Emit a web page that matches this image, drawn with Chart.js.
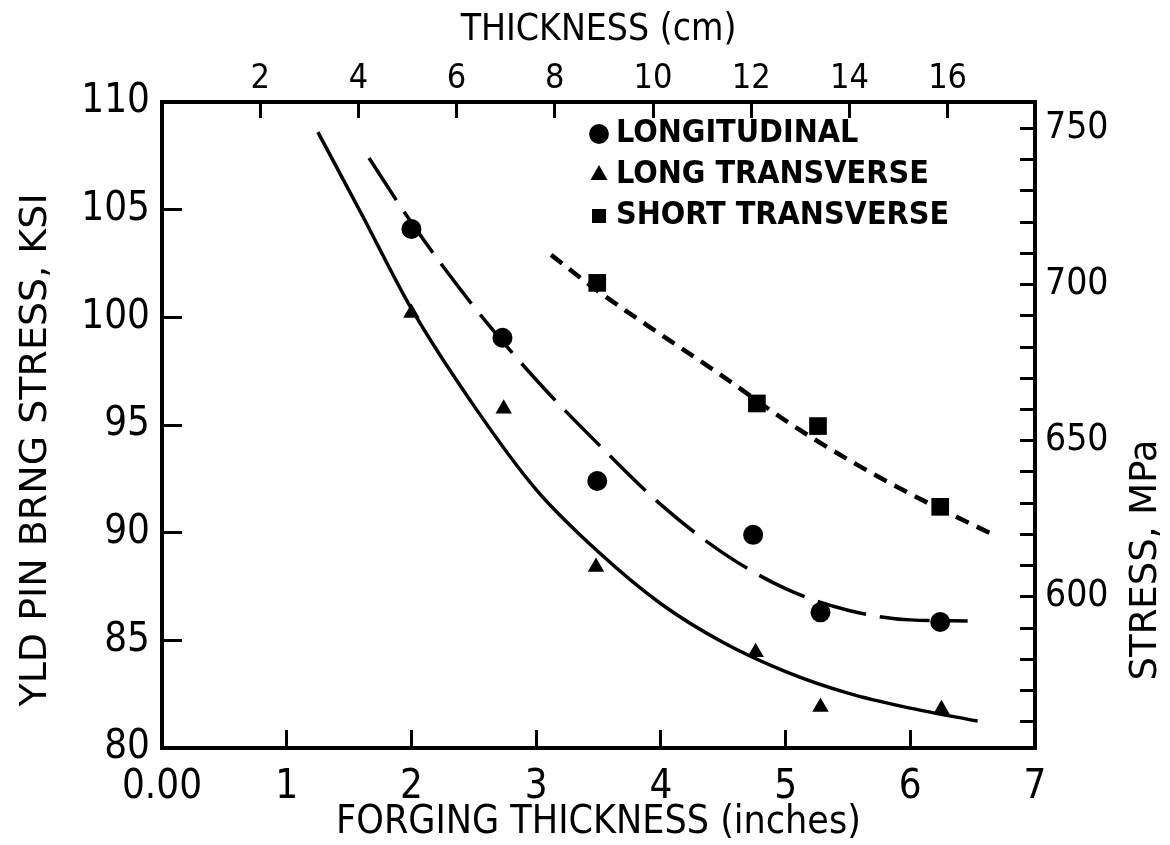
<!DOCTYPE html>
<html><head><meta charset="utf-8">
<script src="https://cdn.jsdelivr.net/npm/chart.js@4.4.0/dist/chart.umd.min.js"></script>
<style>html,body{margin:0;padding:0;background:#fff}#wrap{width:1170px;height:845px;position:relative}</style>
</head><body><div id="wrap"><canvas id="c"></canvas></div>
<script>
// ---- data ----
const longitudinalX = [2.0, 2.73, 3.49, 4.74, 5.28, 6.24];
const longitudinalY = [104.1, 99.05, 92.4, 89.9, 86.3, 85.85];
const longTransX = [2.0, 2.74, 3.48, 4.76, 5.28, 6.25];
const longTransY = [100.2, 95.75, 88.4, 84.45, 81.9, 81.8];
const shortTransX = [3.49, 4.77, 5.26, 6.24];
const shortTransY = [101.6, 96.0, 94.95, 91.2];

const longFitX = [1.66, 2.0, 2.5, 3.0, 3.5, 4.0, 4.5, 5.0, 5.5, 6.0, 6.46];
const longFitY = [107.4, 104.4, 100.5, 97.1, 94.1, 91.3, 89.05, 87.4, 86.4, 85.95, 85.9];
const ltFitX = [1.25, 1.6, 2.0, 2.5, 3.0, 3.5, 4.0, 4.5, 5.0, 5.5, 6.0, 6.54];
const ltFitY = [108.6, 104.8, 100.4, 95.9, 92.0, 89.1, 86.7, 84.9, 83.55, 82.55, 81.85, 81.25];
const stFitX = [3.12, 3.5, 4.0, 4.5, 5.0, 5.5, 6.0, 6.65];
const stFitY = [102.9, 101.2, 99.2, 97.25, 95.2, 93.4, 91.8, 89.95];

const inchTicks = [0, 1, 2, 3, 4, 5, 6, 7];
const cmTicks = [2, 4, 6, 8, 10, 12, 14, 16];
const ksiTicks = [80, 85, 90, 95, 100, 105, 110];
const mpaTicks = [560, 570, 580, 590, 600, 610, 620, 630, 640, 650, 660, 670, 680, 690, 700, 710, 720, 730, 740, 750];
const mpaLabelled = [600, 650, 700, 750];

const seriesNames = ['LONGITUDINAL', 'LONG TRANSVERSE', 'SHORT TRANSVERSE'];
const xTitle = 'FORGING THICKNESS (inches)';
const x2Title = 'THICKNESS (cm)';
const yTitle = 'YLD PIN BRNG STRESS, KSI';
const y2Title = 'STRESS, MPa';

const pts = (xs, ys) => xs.map((x, i) => ({x: x, y: ys[i]}));
const FAM = "'DejaVu Sans Condensed', 'DejaVu Sans', sans-serif";
const FAMW = "'DejaVu Sans', sans-serif";
const INCH_MAX = 7, KSI_MIN = 80, KSI_MAX = 110;

const fixSize = (prop, v) => (s) => { s[prop] = v; };

const legendMover = {
  id: 'legendMover',
  afterLayout(chart) {
    const lg = chart.legend; if (!lg) return;
    const w = lg.width, h = lg.height;
    lg.left = 589; lg.right = 589 + w; lg.top = 109; lg.bottom = 109 + h;
  }
};
const verticalTitles = {
  id: 'verticalTitles',
  afterDraw(chart) {
    const ctx = chart.ctx;
    const draw = (text, x, y, font) => {
      ctx.save();
      ctx.translate(x, y);
      ctx.rotate(-Math.PI / 2);
      ctx.font = font;
      ctx.fillStyle = '#000';
      ctx.textAlign = 'center';
      ctx.textBaseline = 'middle';
      ctx.fillText(text, 0, 0);
      ctx.restore();
    };
    draw(yTitle, 36, 450, '38px ' + FAMW);
    draw(y2Title, 1146, 560, '37px ' + FAMW);
  }
};

const black = '#000';
const axisCommon = (tl) => ({
  grid: { display: true, drawOnChartArea: false, drawTicks: true, tickLength: tl, color: black, lineWidth: 3 },
  border: { display: true, color: black, width: 4 },
});

new Chart(document.getElementById('c'), {
  type: 'scatter',
  data: {
    datasets: [
      { label: seriesNames[0], data: pts(longitudinalX, longitudinalY), pointStyle: 'circle', pointRadius: 10, backgroundColor: black, borderColor: black, borderWidth: 0, showLine: false, xAxisID: 'x', yAxisID: 'y' },
      { label: seriesNames[1], data: pts(longTransX, longTransY), pointStyle: 'triangle', pointRadius: 9.5, backgroundColor: black, borderColor: black, borderWidth: 0, showLine: false, xAxisID: 'x', yAxisID: 'y' },
      { label: seriesNames[2], data: pts(shortTransX, shortTransY), pointStyle: 'rect', pointRadius: 12.5, backgroundColor: black, borderColor: black, borderWidth: 0, showLine: false, xAxisID: 'x', yAxisID: 'y' },
      { label: 'fitL', data: pts(longFitX, longFitY), showLine: true, pointRadius: 0, borderColor: black, borderWidth: 3.5, borderDash: [50, 14], cubicInterpolationMode: 'monotone', fill: false, xAxisID: 'x', yAxisID: 'y' },
      { label: 'fitLT', data: pts(ltFitX, ltFitY), showLine: true, pointRadius: 0, borderColor: black, borderWidth: 3.5, cubicInterpolationMode: 'monotone', fill: false, xAxisID: 'x', yAxisID: 'y' },
      { label: 'fitST', data: pts(stFitX, stFitY), showLine: true, pointRadius: 0, borderColor: black, borderWidth: 4.5, borderDash: [14, 9], cubicInterpolationMode: 'monotone', fill: false, xAxisID: 'x', yAxisID: 'y' }
    ]
  },
  options: {
    responsive: true, maintainAspectRatio: false, animation: false, devicePixelRatio: 1,
    layout: { padding: 0 },
    plugins: {
      tooltip: { enabled: false },
      legend: {
        display: true, position: 'chartArea', align: 'start',
        labels: {
          filter: (item) => item.datasetIndex < 3,
          usePointStyle: true, boxWidth: 2, boxHeight: 14, padding: 9, color: black,
          font: { family: FAM, size: 32, weight: 'bold', lineHeight: 1 }
        }
      }
    },
    scales: {
      x: Object.assign(axisCommon(-18), {
        type: 'linear', position: 'bottom', min: 0, max: INCH_MAX,
        afterFit: fixSize('height', 97),
        afterBuildTicks: (s) => { s.ticks = inchTicks.map(v => ({value: v})); },
        ticks: { autoSkip: false, maxRotation: 0, padding: 38, color: black, font: { family: FAM, size: 40, lineHeight: 1 },
                 callback: (v) => v === 0 ? '0.00' : String(v) },
        title: { display: true, text: xTitle, color: black, padding: { top: 0, bottom: 3 }, font: { family: FAM, size: 39, lineHeight: 1 } }
      }),
      x2: Object.assign(axisCommon(-16), {
        type: 'linear', position: 'top', display: true, min: 0, max: INCH_MAX * 2.54,
        afterFit: fixSize('height', 102),
        afterBuildTicks: (s) => { s.ticks = cmTicks.map(v => ({value: v})); },
        ticks: { autoSkip: false, maxRotation: 0, padding: 22, color: black, font: { family: FAM, size: 34, lineHeight: 1 } },
        title: { display: true, text: x2Title, color: black, padding: { top: 12, bottom: 0 }, font: { family: FAM, size: 37, lineHeight: 1 } }
      }),
      y: Object.assign(axisCommon(-20), {
        type: 'linear', position: 'left', min: KSI_MIN, max: KSI_MAX,
        afterFit: fixSize('width', 162),
        afterBuildTicks: (s) => { s.ticks = ksiTicks.map(v => ({value: v})); },
        ticks: { autoSkip: false, padding: 32, color: black, font: { family: FAM, size: 40, lineHeight: 1 } },
        title: { display: false, text: yTitle }
      }),
      y2: Object.assign(axisCommon(-15), {
        type: 'linear', position: 'right', display: true, min: KSI_MIN * 6.895, max: KSI_MAX * 6.895,
        afterFit: fixSize('width', 135),
        afterBuildTicks: (s) => { s.ticks = mpaTicks.map(v => ({value: v})); },
        ticks: { autoSkip: false, padding: 25, color: black, font: { family: FAM, size: 37, lineHeight: 1 },
                 callback: (v) => mpaLabelled.includes(v) ? String(v) : '' },
        title: { display: false, text: y2Title }
      })
    }
  },
  plugins: [legendMover, verticalTitles]
});
</script></body></html>
